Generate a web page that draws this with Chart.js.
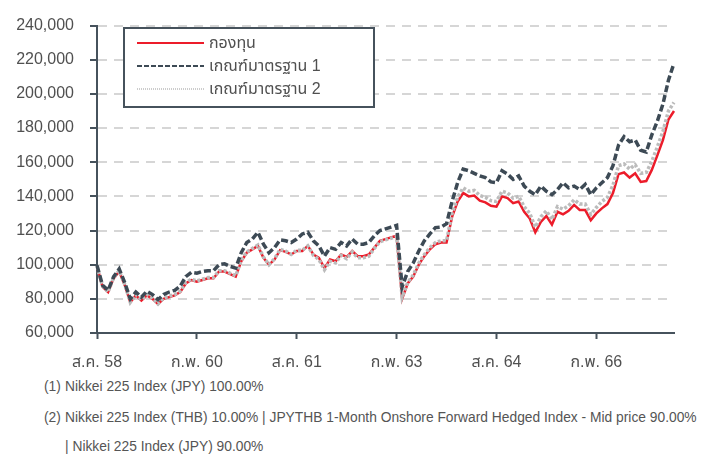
<!DOCTYPE html>
<html>
<head>
<meta charset="utf-8">
<script src="https://cdn.jsdelivr.net/npm/chart.js@4.4.1/dist/chart.umd.min.js"></script>
<style>
  body { margin: 0; background: #fff; }
  #wrap { position: relative; width: 719px; height: 457px; font-family: "Liberation Sans", "Noto Sans", sans-serif; color: #555; }
  #box { position: absolute; left: 0; top: 0; width: 719px; height: 374px; }
  .note { position: absolute; left: 44px; font-size: 13.8px; white-space: nowrap; }
  .note span { display: inline-block; width: 21px; }
</style>
</head>
<body>
<div id="wrap">
  <div id="box"><canvas id="myChart"></canvas></div>
  <div class="note" style="top:379px"><span>(1)</span>Nikkei 225 Index (JPY) 100.00%</div>
  <div class="note" style="top:410px"><span>(2)</span>Nikkei 225 Index (THB) 10.00% | JPYTHB 1-Month Onshore Forward Hedged Index - Mid price 90.00%</div>
  <div class="note" style="top:439px"><span></span>| Nikkei 225 Index (JPY) 90.00%</div>
</div>
<script>
// monthly points, ส.ค. 58 .. เม.ย. 67
const thaiMonths = ['ม.ค.','ก.พ.','มี.ค.','เม.ย.','พ.ค.','มิ.ย.','ก.ค.','ส.ค.','ก.ย.','ต.ค.','พ.ย.','ธ.ค.'];
const xTickLabels = ['ส.ค. 58','ก.พ. 60','ส.ค. 61','ก.พ. 63','ส.ค. 64','ก.พ. 66'];
const seriesNames = ['กองทุน','เกณฑ์มาตรฐาน 1','เกณฑ์มาตรฐาน 2'];

const fund = [
  99000, 87000, 84000, 92000, 96000, 88000, 78000, 82000, 79000, 82000,
  80000, 77000, 80000, 81000, 82000, 84000, 89000, 91000, 90000, 91000,
  92000, 92000, 96000, 96000, 94500, 93000, 102000, 107000, 109000, 111000,
  104000, 100000, 103000, 108500, 107500, 106000, 108000, 108000, 111000, 106000,
  104000, 98000, 103000, 102000, 106000, 104500, 108000, 105000, 105000, 106000,
  110000, 114000, 115000, 116000, 117000, 80000, 89000, 93000, 100000, 105000,
  109000, 112000, 113000, 113000, 128000, 137000, 142000, 140000, 140500, 137500,
  136500, 134500, 134000, 140000, 139000, 136000, 137000, 131000, 127000, 119000,
  125000, 128500, 123500, 131000, 129500, 131500, 135000, 132000, 132000, 126000,
  130000, 133000, 135500, 142000, 153000, 154000, 151000, 153500, 148500, 149000,
  155500, 164000, 173000, 185000, 190000
];
const bench1 = [
  99500, 88000, 85000, 93000, 97500, 89500, 80000, 84000, 81000, 84500,
  82500, 79500, 82500, 84000, 85000, 87500, 93000, 95500, 95000, 96000,
  96500, 96500, 100000, 100500, 99000, 98000, 107000, 113000, 115000, 119000,
  112000, 107000, 110000, 114500, 114000, 113000, 115000, 118000, 119000, 114000,
  111000, 105000, 110000, 109000, 113000, 111000, 115000, 112000, 112000, 113000,
  117000, 120000, 121000, 122000, 123000, 87000, 96000, 101000, 108000, 114000,
  118000, 121700, 122000, 124000, 137000, 148000, 156000, 155000, 153500, 152000,
  151000, 148500, 148000, 155000, 153000, 150000, 152000, 146000, 143000, 141000,
  146000, 143000, 141000, 144000, 148000, 145000, 146000, 144000, 147000, 141000,
  145000, 148000, 151000, 158000, 170000, 175000, 172000, 173000, 167000, 166000,
  176000, 184000, 194000, 208000, 218000
];
const bench2 = [
  99000, 87500, 84000, 92500, 96500, 88500, 78000, 82500, 79500, 82500,
  80500, 77000, 80500, 81500, 82500, 84500, 89500, 91500, 90500, 91500,
  92500, 92500, 96500, 96500, 95000, 93500, 102500, 107500, 109500, 111500,
  104500, 100000, 103500, 109000, 108000, 106000, 108500, 108500, 111000, 105500,
  103000, 97000, 102000, 101000, 105500, 103500, 107500, 104000, 104000, 105000,
  109500, 113500, 114500, 115500, 116500, 81000, 89500, 94000, 101000, 106000,
  110000, 113000, 114000, 114000, 130000, 139500, 145000, 143000, 143500, 140500,
  139500, 137500, 137000, 143000, 142000, 139000, 140000, 134000, 130000, 122000,
  128000, 131500, 126500, 134000, 132500, 134500, 138000, 135500, 135500, 129500,
  133500, 137000, 139500, 146500, 158000, 159000, 156000, 158500, 153500, 154000,
  160500, 169000, 178000, 190000, 195000
];

var labels = [];
for (var i = 0; i < fund.length; i++) {
  var m = (7 + i) % 12;
  var y = 58 + Math.floor((7 + i) / 12);
  labels.push(thaiMonths[m] + ' ' + y);
}

const axisColor = '#46525c';
const textColor = '#505050';
const thaiFont = '"Liberation Sans", "Noto Sans Thai", "Noto Sans", sans-serif';

// legend box drawn inside the plot, like the original
const legendBox = {
  id: 'legendBox',
  afterDraw(chart) {
    const ctx = chart.ctx;
    const ds = chart.data.datasets;
    ctx.save();
    ctx.fillStyle = '#fff';
    ctx.fillRect(124, 28, 250, 79);
    ctx.lineWidth = 2;
    ctx.strokeStyle = axisColor;
    ctx.strokeRect(124, 28, 250, 79);
    const rows = [43, 66, 89];
    const dashes = [[], [5, 2], [1, 1]];
    const widths = [2, 2, 1.5];
    for (var k = 0; k < 3; k++) {
      ctx.beginPath();
      ctx.setLineDash(dashes[k]);
      ctx.lineWidth = widths[k];
      ctx.strokeStyle = ds[k].borderColor;
      ctx.moveTo(137, rows[k]);
      ctx.lineTo(204, rows[k]);
      ctx.stroke();
      ctx.setLineDash([]);
      ctx.fillStyle = textColor;
      ctx.font = '16px ' + thaiFont;
      ctx.textBaseline = 'middle';
      ctx.fillText(seriesNames[k], 209, rows[k] + 1);
    }
    ctx.restore();
  }
};

const ctx = document.getElementById('myChart');
var chart = new Chart(ctx, {
  type: 'line',
  data: {
    labels: labels,
    datasets: [
      {
        label: seriesNames[0],
        data: fund,
        borderColor: '#ec1c2a',
        borderWidth: 2.5,
        order: 2
      },
      {
        label: seriesNames[1],
        data: bench1,
        borderColor: '#3d4a55',
        borderWidth: 3.5,
        borderDash: [7, 3],
        order: 0
      },
      {
        label: seriesNames[2],
        data: bench2,
        borderColor: '#bcbcbc',
        borderWidth: 3.5,
        borderDash: [3, 2],
        order: 1
      }
    ]
  },
  options: {
    maintainAspectRatio: false,
    animation: false,
    layout: { padding: { top: 18, right: 45, left: 0, bottom: 0 } },
    plugins: { legend: { display: false }, tooltip: { enabled: false } },
    elements: {
      point: { radius: 0 },
      line: { tension: 0, borderCapStyle: 'butt' }
    },
    scales: {
      x: {
        afterFit: function(s) { s.height = 41; },
        border: { display: true, color: axisColor, width: 2 },
        grid: { drawOnChartArea: false, drawTicks: true, tickLength: 6, tickColor: axisColor, tickWidth: 2 },
        ticks: {
          autoSkip: false,
          maxRotation: 0,
          padding: 14,
          color: textColor,
          font: { family: thaiFont, size: 16 },
          callback: function(val, idx) {
            var l = labels[idx];
            return xTickLabels.indexOf(l) >= 0 ? l : null;
          }
        }
      },
      y: {
        min: 60000,
        max: 240000,
        afterFit: function(s) { s.width = 97; },
        border: { display: true, color: axisColor, width: 2, dash: [9, 7] },
        grid: { color: '#d6d6d6', lineWidth: 2, tickLength: 7, tickColor: axisColor, tickWidth: 2, tickBorderDash: [] },
        ticks: {
          stepSize: 20000,
          padding: 16,
          color: textColor,
          font: { family: thaiFont, size: 16 },
          callback: function(v) { return v.toLocaleString('en-US'); }
        }
      }
    }
  },
  plugins: [legendBox]
});
</script>
</body>
</html>
